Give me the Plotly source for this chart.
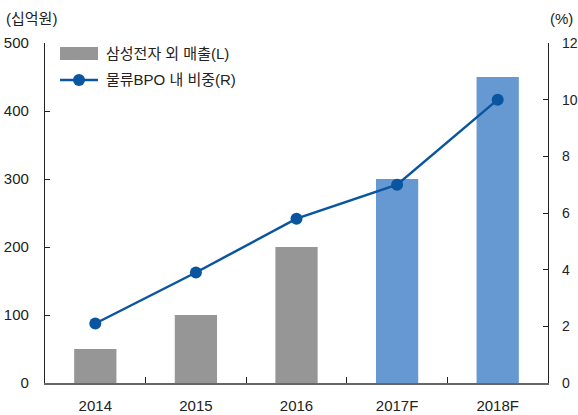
import plotly.graph_objects as go

categories = ["2014", "2015", "2016", "2017F", "2018F"]
sales = [50, 100, 200, 300, 450]          # 삼성전자 외 매출 (십억원)
share = [2.1, 3.9, 5.8, 7.0, 10.0]       # 물류BPO 내 비중 (%)
bar_colors = ["#969696", "#969696", "#969696", "#6699d1", "#6699d1"]
left_ticks = [0, 100, 200, 300, 400, 500]
right_ticks = [0, 2, 4, 6, 8, 10, 12]
series_names = ["삼성전자 외 매출(L)", "물류BPO 내 비중(R)"]

FONT = "Liberation Sans, Noto Sans CJK KR, sans-serif"
GRAY = "#969696"
LINE = "#0a55a0"
W, H = 578, 415
ML, MR, MT, MB = 45, 30, 43, 32
PW, PH = W - ML - MR, H - MT - MB

def px(x):
    return (x - ML) / PW

def py(y):
    return (H - MB - y) / PH

fig = go.Figure()
fig.add_trace(go.Bar(
    x=categories, y=sales, name=series_names[0],
    marker=dict(color=bar_colors, line=dict(width=0)),
    width=0.42, yaxis="y", showlegend=False,
))
fig.add_trace(go.Scatter(
    x=categories, y=share, name=series_names[1], mode="lines+markers",
    line=dict(color=LINE, width=2.5),
    marker=dict(color=LINE, size=12),
    yaxis="y2", showlegend=False,
))

# custom legend (wide swatch like the reference)
shapes = [
    dict(type="rect", xref="paper", yref="paper", x0=px(60), x1=px(98),
         y0=py(60), y1=py(47), fillcolor=GRAY, line=dict(width=0)),
    dict(type="line", xref="paper", yref="paper", x0=px(60), x1=px(98),
         y0=py(80), y1=py(80), line=dict(color=LINE, width=2.5)),
    dict(type="circle", xref="paper", yref="paper", x0=px(73), x1=px(85),
         y0=py(86), y1=py(74), fillcolor=LINE, line=dict(color=LINE, width=0)),
]

annotations = [
    dict(text=series_names[0], xref="paper", yref="paper", x=px(104), y=py(53),
         xanchor="left", yanchor="middle", showarrow=False,
         font=dict(size=15, color="#222")),
    dict(text=series_names[1], xref="paper", yref="paper", x=px(104), y=py(80),
         xanchor="left", yanchor="middle", showarrow=False,
         font=dict(size=15, color="#222")),
    dict(text="(십억원)", xref="paper", yref="paper", x=px(4), y=py(18),
         xanchor="left", yanchor="middle", showarrow=False,
         font=dict(size=15, color="#222")),
    dict(text="(%)", xref="paper", yref="paper", x=px(575), y=py(18),
         xanchor="right", yanchor="middle", showarrow=False,
         font=dict(size=15, color="#222")),
]

fig.update_layout(
    width=W, height=H,
    margin=dict(l=ML, r=MR, t=MT, b=MB, autoexpand=False),
    paper_bgcolor="white", plot_bgcolor="white",
    font=dict(family=FONT, size=15, color="#222"),
    showlegend=False,
    xaxis=dict(type="category", showline=True, linecolor="#666", linewidth=1.5,
               ticks="inside", tickson="boundaries", ticklen=6, tickcolor="#222",
               showgrid=False, tickfont=dict(size=15), automargin=False,
               ticklabelstandoff=8),
    yaxis=dict(range=[0, 500], tickvals=left_ticks, showline=True, linecolor="#222",
               linewidth=1.2, ticks="inside", ticklen=5, tickcolor="#222",
               showgrid=False, zeroline=False, tickfont=dict(size=15),
               automargin=False, ticklabelstandoff=12),
    yaxis2=dict(range=[0, 12], tickvals=right_ticks, overlaying="y", side="right",
                showline=True, linecolor="#222", linewidth=1.2, ticks="inside",
                ticklen=5, tickcolor="#222", showgrid=False, zeroline=False,
                tickfont=dict(size=14), automargin=False, ticklabelstandoff=10),
    shapes=shapes,
    annotations=annotations,
)

fig.write_html("out.html", config={"displayModeBar": False},
               post_script="document.body.style.margin='0';")
